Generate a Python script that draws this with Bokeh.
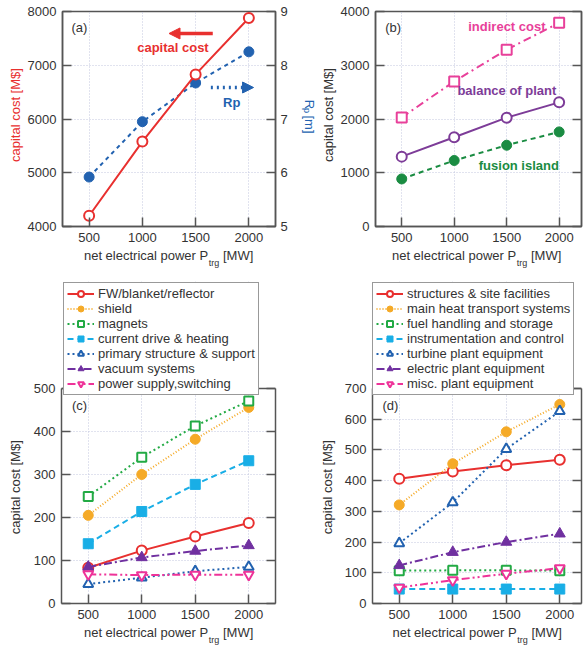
import math
from bokeh.plotting import figure
from bokeh.models import (Range1d, LinearAxis, Legend, LegendItem, Label, Arrow,
                          NormalHead, FixedTicker, Span)
from bokeh.layouts import column, row
from bokeh.embed import file_html
from bokeh.resources import INLINE

# ---------------- data ----------------
power = [500, 1000, 1500, 2000]
x_ticks = [500, 1000, 1500, 2000]

# (a)
capital_cost = [4200, 5580, 6830, 7880]
rp_major = [5.92, 6.95, 7.67, 8.25]

# (b)
indirect_cost = [2030, 2700, 3290, 3790]
balance_of_plant = [1300, 1660, 2025, 2310]
fusion_island = [885, 1228, 1512, 1760]

# (c)
c_labels = ["FW/blanket/reflector", "shield", "magnets", "current drive & heating",
            "primary structure & support", "vacuum systems", "power supply,switching"]
fw_blanket = [83, 123, 156, 187]
shield = [205, 300, 382, 456]
magnets = [249, 340, 413, 471]
current_drive = [139, 214, 277, 332]
primary_structure = [45, 60, 75, 85]
vacuum_systems = [85, 107, 122, 135]
power_supply = [68, 66, 67, 67]

# (d)
d_labels = ["structures & site facilities", "main heat transport systems",
            "fuel handling and storage", "instrumentation and control",
            "turbine plant equipment", "electric plant equipment", "misc. plant equipment"]
structures = [406, 430, 450, 468]
heat_transport = [321, 455, 559, 648]
fuel_handling = [107, 108, 108, 107]
instrumentation = [47, 47, 47, 47]
turbine = [196, 329, 503, 626]
electric = [124, 167, 200, 227]
misc_plant = [52, 76, 97, 115]

# ---------------- style ----------------
FONT = "Liberation Sans"
TXT = "#333333"
FRAME = "#555555"
GRID = "#c3c6de"

RED = "#e8302f"
BLUE = "#2262b0"
PINK = "#e8409a"
PURPLE = "#7d3c98"
GREEN = "#1a8c42"
ORANGE = "#f5aa27"
GREEN2 = "#22aa44"
CYAN = "#19aee6"
PURPLE2 = "#7030a0"
PINK2 = "#ee3399"


def style_axis(ax, ticks, standoff, bounds="auto"):
    ax.ticker = FixedTicker(ticks=ticks)
    ax.bounds = bounds
    ax.major_tick_in = 9
    ax.major_tick_out = 0
    ax.minor_tick_line_color = None
    ax.axis_line_color = FRAME
    ax.axis_line_width = 1.5
    ax.major_tick_line_color = FRAME
    ax.major_tick_line_width = 1.5
    ax.major_label_text_font = FONT
    ax.major_label_text_font_size = "13px"
    ax.major_label_text_color = TXT
    ax.major_label_standoff = standoff


def make_fig(width, height, xend, yrange, yticks, bl, br, bt, bb,
             mirror=True, data_top=None):
    p = figure(width=width, height=height, x_range=Range1d(250, xend),
               y_range=Range1d(*yrange),
               output_backend="svg", toolbar_location=None,
               min_border_left=bl, min_border_right=br, min_border_top=bt,
               min_border_bottom=bb)
    bounds = "auto" if data_top is None else (yrange[0], data_top)
    if data_top is None:
        p.outline_line_color = FRAME
        p.outline_line_width = 1.5
    else:
        p.outline_line_color = None
        p.add_layout(Span(location=data_top, dimension="width",
                          line_color=FRAME, line_width=1.5))
    p.background_fill_color = "white"
    p.border_fill_color = "white"
    style_axis(p.xaxis[0], x_ticks, 6)
    style_axis(p.yaxis[0], yticks, 6, bounds)
    for g in (p.xgrid[0], p.ygrid[0]):
        g.grid_line_color = GRID
        g.grid_line_dash = "1 2"
        g.grid_line_width = 1
    p.xgrid[0].ticker = FixedTicker(ticks=x_ticks)
    p.ygrid[0].ticker = FixedTicker(ticks=yticks)
    if mirror:
        ax = LinearAxis()
        style_axis(ax, yticks, 0, bounds)
        ax.major_label_text_font_size = "1px"
        ax.major_label_text_color = None
        p.add_layout(ax, "right")
    return p


def strip(width, height):
    s = figure(width=width, height=height, x_range=Range1d(0, width),
               y_range=Range1d(0, height), output_backend="svg",
               toolbar_location=None, x_axis_type=None, y_axis_type=None,
               min_border_left=0, min_border_right=0, min_border_top=0,
               min_border_bottom=0)
    s.outline_line_color = None
    s.background_fill_color = "white"
    s.border_fill_color = "white"
    return s


def xlabel(s, cx, ym, ys):
    s.add_layout(Label(x=cx + 39.7, y=ym, text="net electrical power P",
                       text_align="right", text_baseline="middle", text_font=FONT,
                       text_font_size="13px", text_color=TXT))
    s.add_layout(Label(x=cx + 40.2, y=ys, text="trg", text_align="left",
                       text_baseline="middle", text_font=FONT,
                       text_font_size="9px", text_color=TXT))
    s.add_layout(Label(x=cx + 54.5, y=ym, text="[MW]", text_align="left",
                       text_baseline="middle", text_font=FONT,
                       text_font_size="13px", text_color=TXT))


def ylabel_strip(width, height, x, y, color=TXT):
    s = strip(width, height)
    s.add_layout(Label(x=x, y=y, text="capital cost [M$]", angle=math.pi / 2,
                       text_align="center", text_baseline="middle",
                       text_font=FONT, text_font_size="13px", text_color=color))
    return s


def tag(p, x, y, text, color=TXT, bold=False):
    p.add_layout(Label(x=x, y=y, text=text, text_align="center",
                       text_baseline="middle", text_font=FONT,
                       text_font_size="13px", text_color=color,
                       text_font_style="bold" if bold else "normal"))


def series(p, y, color, dash, marker, filled, size, items=None, label=None,
           y_range_name="default"):
    l = p.line(power, y, line_color=color, line_width=2, line_dash=dash,
               y_range_name=y_range_name)
    s = p.scatter(power, y, marker=marker, size=size, line_color=color,
                  line_width=1 if filled else 2,
                  fill_color=color if filled else "white",
                  y_range_name=y_range_name)
    if items is not None:
        items.append(LegendItem(label=label, renderers=[l, s]))


def legend(p, items, dx, dy):
    lg = Legend(items=items, location=(dx, dy), padding=3, spacing=0, margin=0,
                glyph_width=27, glyph_height=15, label_height=15,
                label_standoff=4, label_text_font=FONT,
                label_text_font_size="13px", label_text_color=TXT,
                border_line_color="#333333", border_line_width=1,
                background_fill_color="white", background_fill_alpha=1)
    p.add_layout(lg)


TOP_H = 246
BOT_H = 353

# ---------------- (a) ----------------
yl_a = ylabel_strip(24, TOP_H, 14.5, TOP_H - 118.5, RED)
pa = make_fig(272, TOP_H, 2250, (4000, 8000), [4000, 5000, 6000, 7000, 8000],
              37, 21, 11, 20, mirror=False)
pa.extra_y_ranges = {"rp": Range1d(5, 9)}
rax = LinearAxis(y_range_name="rp")
style_axis(rax, [5, 6, 7, 8, 9], 5)
pa.add_layout(rax, "right")
series(pa, rp_major, BLUE, "4 4", "circle", True, 10, y_range_name="rp")
series(pa, capital_cost, RED, "solid", "circle", False, 10)
pa.add_layout(Arrow(end=NormalHead(size=11, fill_color=RED, line_color=RED),
                    x_start=1661, y_start=7591, x_end=1250, y_end=7591,
                    line_color=RED, line_width=3.5))
pa.add_layout(Arrow(end=NormalHead(size=11, fill_color=BLUE, line_color=BLUE),
                    x_start=1643, y_start=6586, x_end=2044, y_end=6586,
                    line_color=BLUE, line_width=3.5, line_dash="2 4"))
tag(pa, 1287, 7330, "capital cost", RED, True)
tag(pa, 1839, 6307, "Rp", BLUE, True)
tag(pa, 409, 7702, "(a)")

# right-axis title R_p [m] (reads downward)
rp_strip = strip(21, TOP_H)
rp_strip.add_layout(Label(x=13, y=TOP_H - 101, text="R", angle=-math.pi / 2,
                          text_align="left", text_baseline="middle", text_font=FONT,
                          text_font_size="13px", text_color=BLUE))
rp_strip.add_layout(Label(x=10, y=TOP_H - 110.4, text="p", angle=-math.pi / 2,
                          text_align="left", text_baseline="middle", text_font=FONT,
                          text_font_size="9px", text_color=BLUE))
rp_strip.add_layout(Label(x=13, y=TOP_H - 119, text="[m]", angle=-math.pi / 2,
                          text_align="left", text_baseline="middle", text_font=FONT,
                          text_font_size="13px", text_color=BLUE))

# ---------------- (b) ----------------
yl_b = ylabel_strip(20, TOP_H, 10.5, TOP_H - 118.5)
pb = make_fig(246, TOP_H, 2213, (0, 4000), [0, 1000, 2000, 3000, 4000],
              34, 2, 11, 20)
series(pb, indirect_cost, PINK, "8 4 2 4", "square", False, 10)
series(pb, balance_of_plant, PURPLE, "solid", "circle", False, 10)
series(pb, fusion_island, GREEN, "5 4", "circle", True, 10)
tag(pb, 1502, 3721, "indirect cost", PINK, True)
tag(pb, 1502, 2530, "balance of plant", PURPLE, True)
tag(pb, 1616, 1135, "fusion island", GREEN, True)
tag(pb, 418, 3702, "(b)")

xs_a = strip(317, 24)
xlabel(xs_a, 168, 15, 8)
xs_b = strip(266, 24)
xlabel(xs_b, 159, 15, 8)

# ---------------- (c) ----------------
# frame spans the legend area too; data part (0..500) occupies the lower 215 px
C_TOP = 500
c_ymax = C_TOP * 322 / 215
yl_c = ylabel_strip(24, BOT_H, 15, BOT_H - 495.5 + 270)
pc = make_fig(293, BOT_H, 2250, (0, c_ymax), [0, 100, 200, 300, 400, 500],
              37, 42, 11, 20, data_top=C_TOP)
items_c = []
series(pc, fw_blanket, RED, "solid", "circle", False, 10, items_c, c_labels[0])
series(pc, shield, ORANGE, "1 2", "circle", True, 10, items_c, c_labels[1])
series(pc, magnets, GREEN2, "2 3", "square", False, 9, items_c, c_labels[2])
series(pc, current_drive, CYAN, "6 4", "square", True, 10, items_c, c_labels[3])
series(pc, primary_structure, BLUE, "2 3", "triangle", False, 10, items_c, c_labels[4])
series(pc, vacuum_systems, PURPLE2, "8 3 2 3", "triangle", True, 11, items_c, c_labels[5])
series(pc, power_supply, PINK2, "8 3 2 3 2 3", "inverted_triangle", False, 10, items_c, c_labels[6])
legend(pc, items_c, 2, 208)
tag(pc, 418, 460, "(c)")

# ---------------- (d) ----------------
D_TOP = 700
d_ymax = D_TOP * 322 / 215
yl_d = ylabel_strip(20, BOT_H, 10, BOT_H - 495.5 + 270)
pd_ = make_fig(246, BOT_H, 2203, (0, d_ymax), [0, 100, 200, 300, 400, 500, 600, 700],
               35, 2, 11, 20, data_top=D_TOP)
items_d = []
series(pd_, structures, RED, "solid", "circle", False, 10, items_d, d_labels[0])
series(pd_, heat_transport, ORANGE, "1 2", "circle", True, 10, items_d, d_labels[1])
series(pd_, fuel_handling, GREEN2, "2 3", "square", False, 9, items_d, d_labels[2])
series(pd_, instrumentation, CYAN, "6 4", "square", True, 10, items_d, d_labels[3])
series(pd_, turbine, BLUE, "2 3", "triangle", False, 10, items_d, d_labels[4])
series(pd_, electric, PURPLE2, "8 3 2 3", "triangle", True, 11, items_d, d_labels[5])
series(pd_, misc_plant, PINK2, "8 3 2 3 2 3", "inverted_triangle", False, 10, items_d, d_labels[6])
legend(pd_, items_d, 0, 208)
tag(pd_, 418, 645, "(d)")

xs_c = strip(317, 28)
xlabel(xs_c, 168, 19, 12)
xs_d = strip(266, 28)
xlabel(xs_d, 159.5, 19, 12)

layout = column(row(yl_a, pa, rp_strip, yl_b, pb), row(xs_a, xs_b),
                row(yl_c, pc, yl_d, pd_), row(xs_c, xs_d))
open("out.html", "w").write(file_html(layout, INLINE))
